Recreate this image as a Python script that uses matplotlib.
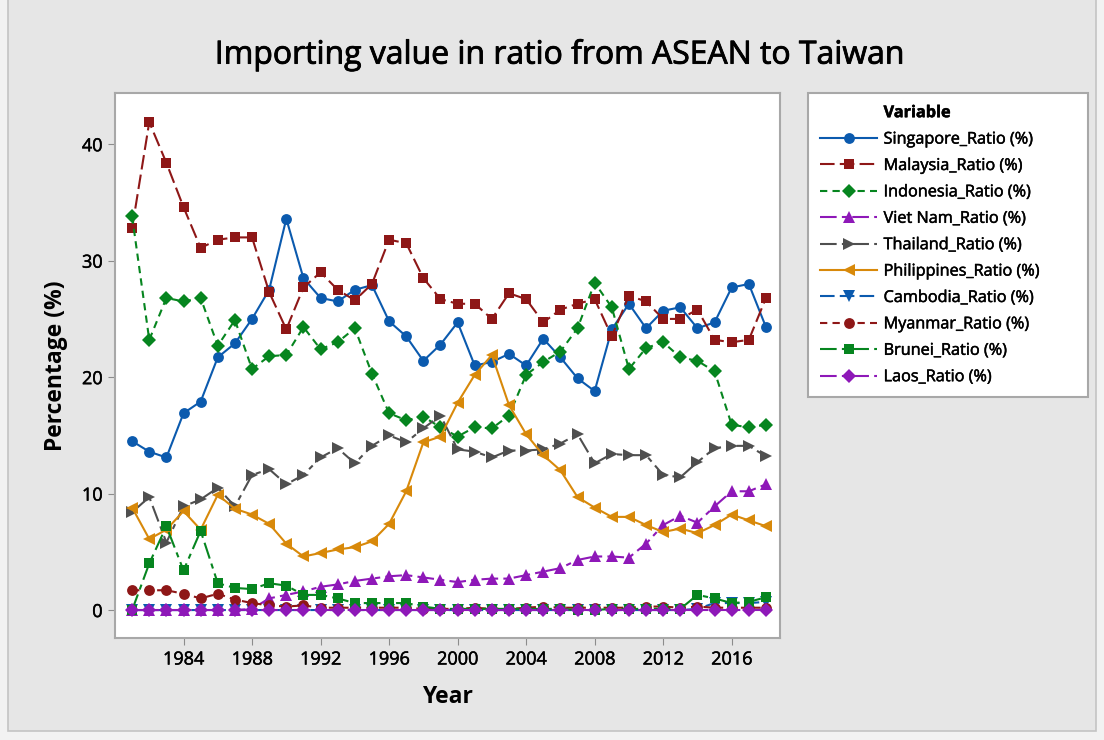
import matplotlib
matplotlib.use("Agg")
import matplotlib.pyplot as plt
import matplotlib.patheffects as pe
from matplotlib.patches import Rectangle
from matplotlib.lines import Line2D

plt.rcParams['font.family'] = ['Open Sans', 'DejaVu Sans']

years = list(range(1981, 2019))

singapore = [14.5, 13.6, 13.1, 16.9, 17.9, 21.7, 22.9, 25.0, 27.5, 33.6,
             28.5, 26.8, 26.5, 27.5, 27.9, 24.8, 23.5, 21.4, 22.8, 24.7,
             21.0, 21.3, 22.0, 21.0, 23.3, 21.7, 19.9, 18.8, 24.1, 26.3,
             24.2, 25.7, 26.0, 24.2, 24.7, 27.7, 28.0, 24.3]
malaysia = [32.8, 41.9, 38.4, 34.6, 31.1, 31.8, 32.0, 32.0, 27.3, 24.1,
            27.7, 29.0, 27.5, 26.6, 28.0, 31.8, 31.5, 28.5, 26.7, 26.3,
            26.3, 25.0, 27.2, 26.7, 24.7, 25.8, 26.3, 26.7, 23.5, 27.0,
            26.5, 25.0, 25.0, 25.8, 23.2, 23.0, 23.2, 26.8]
indonesia = [33.8, 23.2, 26.8, 26.5, 26.8, 22.7, 24.9, 20.7, 21.8, 21.9,
             24.3, 22.4, 23.0, 24.2, 20.3, 16.9, 16.3, 16.6, 15.7, 14.9,
             15.7, 15.6, 16.7, 20.2, 21.3, 22.2, 24.2, 28.1, 26.0, 20.7,
             22.5, 23.0, 21.7, 21.4, 20.5, 15.9, 15.7, 15.9]
vietnam = [0.0, 0.0, 0.0, 0.0, 0.0, 0.0, 0.0, 0.1, 1.0, 1.3,
           1.6, 2.0, 2.2, 2.5, 2.7, 2.9, 3.0, 2.8, 2.6, 2.4,
           2.6, 2.7, 2.7, 3.0, 3.3, 3.6, 4.3, 4.6, 4.6, 4.5,
           5.7, 7.3, 8.1, 7.5, 8.9, 10.2, 10.2, 10.8]
thailand = [8.4, 9.7, 5.8, 8.9, 9.5, 10.5, 8.9, 11.6, 12.1, 10.8,
            11.6, 13.1, 13.9, 12.6, 14.1, 15.0, 14.4, 15.6, 16.7, 13.8,
            13.6, 13.1, 13.7, 13.7, 13.8, 14.3, 15.1, 12.6, 13.4, 13.3,
            13.3, 11.6, 11.4, 12.7, 13.9, 14.1, 14.1, 13.2]
philippines = [8.8, 6.1, 6.9, 8.5, 6.9, 9.9, 8.7, 8.2, 7.4, 5.7,
               4.6, 4.9, 5.2, 5.4, 5.9, 7.4, 10.2, 14.4, 14.9, 17.8,
               20.2, 21.9, 17.6, 15.1, 13.3, 12.0, 9.7, 8.8, 8.0, 8.0,
               7.3, 6.7, 7.0, 6.6, 7.3, 8.2, 7.7, 7.2]
cambodia = [0.0, 0.0, 0.0, 0.0, 0.0, 0.0, 0.0, 0.0, 0.0, 0.0,
            0.0, 0.0, 0.0, 0.0, 0.0, 0.0, 0.0, 0.0, 0.0, 0.0,
            0.0, 0.0, 0.0, 0.0, 0.0, 0.0, 0.0, 0.0, 0.0, 0.0,
            0.0, 0.0, 0.0, 0.1, 0.6, 0.6, 0.6, 0.7]
myanmar = [1.7, 1.7, 1.7, 1.4, 1.0, 1.4, 0.9, 0.6, 0.4, 0.3,
           0.4, 0.2, 0.2, 0.2, 0.2, 0.2, 0.2, 0.1, 0.1, 0.1,
           0.2, 0.1, 0.1, 0.2, 0.3, 0.2, 0.2, 0.2, 0.2, 0.2,
           0.3, 0.3, 0.2, 0.3, 0.2, 0.2, 0.2, 0.2]
brunei = [0.0, 4.0, 7.2, 3.4, 6.8, 2.3, 1.9, 1.8, 2.3, 2.1,
          1.3, 1.3, 1.0, 0.6, 0.6, 0.6, 0.6, 0.3, 0.1, 0.1,
          0.1, 0.1, 0.1, 0.1, 0.1, 0.1, 0.0, 0.0, 0.1, 0.1,
          0.1, 0.1, 0.1, 1.3, 1.0, 0.6, 0.7, 1.1]
laos = [0.0] * 38

labels = ["Singapore_Ratio (%)", "Malaysia_Ratio (%)", "Indonesia_Ratio (%)",
          "Viet Nam_Ratio (%)", "Thailand_Ratio (%)", "Philippines_Ratio (%)",
          "Cambodia_Ratio (%)", "Myanmar_Ratio (%)", "Brunei_Ratio (%)",
          "Laos_Ratio (%)"]
series = [singapore, malaysia, indonesia, vietnam, thailand, philippines,
          cambodia, myanmar, brunei, laos]

blue = "#0B5AAE"
red = "#8E1717"
green = "#06851F"
purple = "#8E18B8"
gray = "#4F4F4F"
orange = "#D8890A"

LONG = (0, (7, 2.5))
DASH = (0, (3.5, 2.5))
LONGSHORT = (0, (8, 2.5, 2.5, 2.5))
styles = [
    (blue, 'o', '-', 7.8),
    (red, 's', LONG, 7.8),
    (green, 'D', DASH, 7.2),
    (purple, '^', LONGSHORT, 8.3),
    (gray, '>', LONGSHORT, 8.3),
    (orange, '<', '-', 8.3),
    (blue, 'v', LONG, 8.3),
    (red, 'o', DASH, 7.8),
    (green, 's', LONGSHORT, 7.8),
    (purple, 'D', LONGSHORT, 7.2),
]

fig = plt.figure(figsize=(11.04, 7.4), dpi=100)
fig.patch.set_facecolor("#F2F2F2")
fig.patches.append(Rectangle((8 / 1104, 9 / 740), 1088 / 1104, 740 / 740,
                             transform=fig.transFigure, facecolor="#E6E6E6",
                             edgecolor="#C4C4C4", linewidth=1.2, zorder=-10))

ax = fig.add_axes([115 / 1104, 1 - 638 / 740, 665 / 1104, 545 / 740])
ax.set_facecolor("white")

handles = []
for vals, lab, (c, m, ls, ms) in zip(series, labels, styles):
    h, = ax.plot(years, vals, color=c, marker=m, linestyle=ls, linewidth=1.5,
                 markersize=ms, markeredgewidth=0, label=lab)
    handles.append(h)

ax.set_xlim(1980.0, 2018.82)
ax.set_ylim(-2.4, 44.4)
ax.set_xticks(list(range(1984, 2017, 4)))
ax.set_yticks([0, 10, 20, 30, 40])
ax.tick_params(axis='both', labelsize=13, length=5, color="#8C8C8C",
               direction='out', pad=4)
thin = [pe.withStroke(linewidth=0.35, foreground='black')]
for t in ax.get_xticklabels() + ax.get_yticklabels():
    t.set_path_effects(thin)
for s in ax.spines.values():
    s.set_color("#A8A8A8")
    s.set_linewidth(1.5)

ax.set_xlabel("Year", fontsize=16.5, fontweight='bold', labelpad=12)
ax.set_ylabel("Percentage (%)", fontsize=16.5, fontweight='bold', labelpad=10)
fig.text(561 / 1104, 1 - 55 / 740, "Importing value in ratio from ASEAN to Taiwan",
         ha='center', va='center', fontsize=23,
         path_effects=[pe.withStroke(linewidth=0.6, foreground='black')])

blank = Line2D([], [], linestyle='none', marker='none')
leg = fig.legend(handles=[blank] + handles, labels=["Variable"] + labels,
                 loc='upper left', mode='expand',
                 bbox_to_anchor=(808 / 1104, 1 - 392 / 740, 280 / 1104, 299 / 740),
                 bbox_transform=fig.transFigure, borderaxespad=0,
                 fontsize=11.7, frameon=True, fancybox=False, handlelength=3.5,
                 labelspacing=0.64, borderpad=0.75, handletextpad=0.4)
leg.get_frame().set_edgecolor("#A8A8A8")
leg.get_frame().set_linewidth(1.5)
leg.get_frame().set_facecolor("white")
leg.get_frame().set_alpha(1)
for t in leg.get_texts():
    t.set_path_effects(thin)
leg.get_texts()[0].set_fontweight('bold')

fig.savefig("out.png", dpi=100, facecolor=fig.get_facecolor())
